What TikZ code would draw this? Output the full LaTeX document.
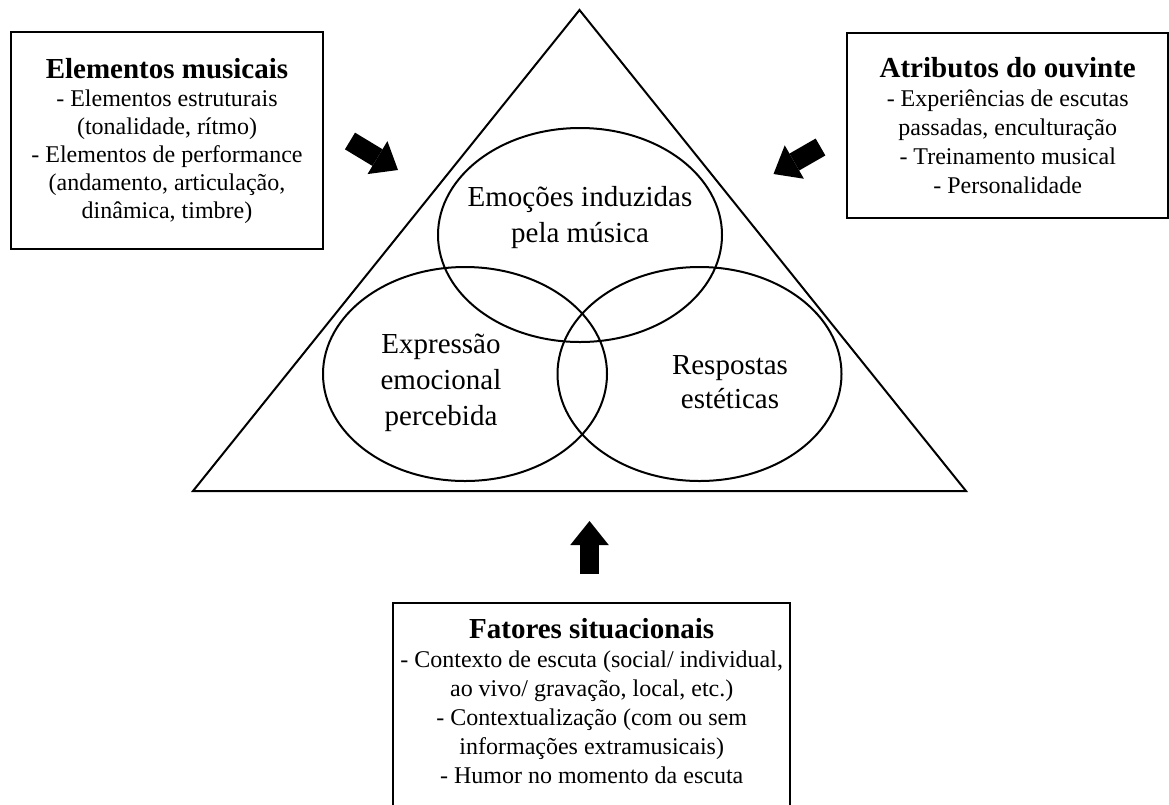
\documentclass[tikz,border=0pt]{standalone}
\usepackage{fontspec}
\setmainfont{Liberation Serif}
\usetikzlibrary{positioning,shapes.geometric,arrows.meta}
\tikzset{>={Triangle[length=24pt,width=38.5pt,line width=0pt]}}
\tikzset{
  infobox/.style={draw, line width=2pt, align=center, inner sep=0pt, font=\fontsize{24}{29}\selectfont},
  circlebox/.style={draw, ellipse, line width=2pt, inner sep=0pt, minimum width=284pt, minimum height=214pt},
  circletext/.style={align=center, inner sep=0pt, font=\fontsize{29}{36}\selectfont},
  bigarrow/.style={->, line width=19.5pt}
}
\newcommand{\boxtitle}[1]{{\fontsize{29}{29}\selectfont\bfseries #1}}

\begin{document}
\begin{tikzpicture}[x=1pt, y=-1pt]
      \useasboundingbox (0,0) rectangle (1169,804);
      \clip (0,0) rectangle (1169,804);
      % triangle
      \coordinate (apex) at (579.5,10);
      \coordinate (baseL) at (193,491);
      \coordinate (baseR) at (966,491);
      \draw[line width=2pt] (apex) -- (baseL) -- (baseR) -- cycle;
      % circles
      \node[circlebox] (c1) at (580,235) {};
      \node[circlebox] (c2) at (465,374) {};
      \node[circlebox] (c3) at (699.5,374) {};
      \node[circletext] (t1) at ([yshift=17pt]c1.center) {Emoções induzidas\\pela música};
      \node[circletext] (t2) at ([xshift=-24pt, yshift=-9pt]c2.center) {Expressão\\emocional\\percebida};
      \node[circletext, font=\fontsize{29}{34.5}\selectfont] (t3) at ([xshift=30.5pt, yshift=-8pt]c3.center) {Respostas\\estéticas};
      % boxes
      \node[infobox, minimum width=312pt, minimum height=217pt, font=\fontsize{24}{28}\selectfont] (em) at (167,140.5) {\boxtitle{Elementos musicais}\\- Elementos estruturais\\(tonalidade, rítmo)\\- Elementos de performance\\(andamento, articulação,\\dinâmica, timbre)};
      \node[infobox, minimum width=321pt, minimum height=185pt] (ao) at (1007.7,125.8) {\boxtitle{Atributos do ouvinte}\\- Experiências de escutas\\passadas, enculturação\\- Treinamento musical\\- Personalidade};
      \node[draw, line width=2pt, inner sep=0pt, minimum width=397pt, minimum height=230pt, anchor=north] (fsbox) at (591.7,602) {};
      \node[infobox, draw=none, below=15pt of fsbox.north] (fs) {\boxtitle{Fatores situacionais}\\- Contexto de escuta (social/ individual,\\ao vivo/ gravação, local, etc.)\\- Contextualização (com ou sem\\informações extramusicais)\\- Humor no momento da escuta};
      % arrows
      \coordinate (a1s) at (350,141);
      \coordinate (a1e) at (398,170);
      \coordinate (a2s) at (820.5,147);
      \coordinate (a2e) at (773.5,174);
      \coordinate (a3s) at (589.5,574);
      \coordinate (a3e) at (589.5,521);
      \draw[bigarrow] (a1s) -- (a1e);
      \draw[bigarrow] (a2s) -- (a2e);
      \draw[bigarrow] (a3s) -- (a3e);
    \end{tikzpicture}
\end{document}
